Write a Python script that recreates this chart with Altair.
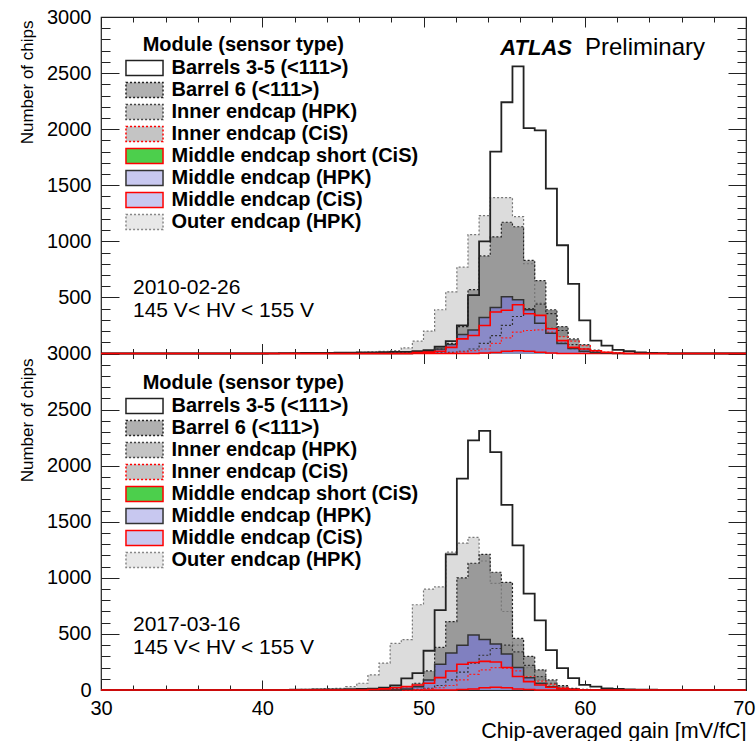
import altair as alt
import pandas as pd

# ---------------- data ----------------
X_LO, X_HI, N_BINS = 30.0, 70.0, 58
FIRST_BIN = 14  # the lists below start at bin 14 (39.66) and run to bin 50

SERIES = ["Barrels 3-5 (<111>)", "Barrel 6 (<111>)", "Inner endcap (HPK)",
          "Inner endcap (CiS)", "Middle endcap short (CiS)", "Middle endcap (HPK)",
          "Middle endcap (CiS)", "Outer endcap (HPK)"]

# panel 1 : 2010-02-26
t_barrels35 = [0, 2, 3, 3, 5, 5, 6, 8, 8, 10, 10, 12, 14, 15, 20, 30, 60, 110, 250, 520,
               1000, 1800, 2240, 2560, 2010, 1990, 1470, 965, 620, 295, 115, 70, 33, 21, 10, 5, 3]
t_barrel6 = [0, 0, 0, 0, 0, 0, 0, 0, 2, 3, 4, 5, 8, 10, 15, 20, 40, 90, 240, 570,
             870, 1040, 1170, 1130, 830, 650, 355, 205, 80, 40, 15, 6, 3, 0, 0, 0, 0]
t_inner_hpk = [0, 0, 0, 0, 0, 0, 0, 0, 0, 0, 0, 0, 0, 0, 0, 0, 5, 10, 20, 40,
               90, 160, 250, 330, 400, 440, 390, 240, 130, 80, 30, 10, 4, 0, 0, 0, 0]
t_inner_cis = [0, 0, 0, 0, 0, 0, 0, 0, 0, 0, 0, 0, 0, 0, 0, 0, 0, 5, 15, 25,
               40, 90, 140, 190, 205, 210, 190, 150, 110, 70, 25, 10, 4, 0, 0, 0, 0]
t_mid_short = [0, 0, 0, 0, 0, 0, 0, 0, 0, 0, 0, 0, 0, 0, 0, 0, 0, 0, 0, 0,
               5, 10, 20, 25, 20, 12, 5, 0, 0, 0, 0, 0, 0, 0, 0, 0, 0]
t_mid_hpk = [0, 0, 0, 0, 0, 0, 0, 0, 0, 0, 0, 0, 0, 0, 8, 15, 40, 80, 170, 210,
             320, 410, 505, 480, 390, 270, 180, 90, 45, 20, 8, 3, 0, 0, 0, 0, 0]
t_mid_cis = [0, 0, 0, 0, 0, 0, 0, 0, 0, 0, 0, 0, 0, 0, 8, 12, 20, 55, 130, 160,
             250, 370, 385, 435, 355, 340, 220, 115, 55, 40, 25, 10, 5, 0, 0, 0, 0]
t_outer = [0, 0, 0, 2, 3, 4, 5, 5, 8, 10, 15, 20, 25, 50, 110, 200, 390, 550, 770, 1060,
           1230, 1390, 1390, 1220, 800, 450, 230, 100, 40, 15, 5, 0, 0, 0, 0, 0, 0]

# panel 2 : 2017-03-16
b_barrels35 = [0, 2, 2, 3, 4, 5, 6, 6, 8, 10, 12, 20, 40, 104, 150, 350, 712, 1210, 1885, 2225,
               2310, 2120, 1650, 1290, 860, 620, 355, 195, 105, 45, 30, 15, 10, 6, 4, 3, 2]
b_barrel6 = [0, 0, 0, 0, 0, 0, 0, 0, 0, 0, 3, 5, 10, 30, 60, 170, 380, 610, 1000, 1130,
             1210, 1050, 960, 460, 300, 180, 90, 40, 15, 5, 0, 0, 0, 0, 0, 0, 0]
b_inner_hpk = [0, 0, 0, 0, 0, 0, 0, 0, 0, 0, 0, 0, 0, 0, 5, 15, 40, 90, 160, 240,
               310, 370, 400, 340, 220, 120, 60, 25, 10, 0, 0, 0, 0, 0, 0, 0, 0]
b_inner_cis = [0, 0, 0, 0, 0, 0, 0, 0, 0, 0, 0, 0, 0, 0, 0, 10, 20, 40, 90, 140,
               180, 200, 195, 170, 120, 80, 50, 20, 8, 0, 0, 0, 0, 0, 0, 0, 0]
b_mid_short = [0, 0, 0, 0, 0, 0, 0, 0, 0, 0, 0, 0, 0, 0, 0, 0, 0, 0, 5, 10,
               20, 25, 20, 10, 5, 0, 0, 0, 0, 0, 0, 0, 0, 0, 0, 0, 0]
b_mid_hpk = [0, 0, 0, 0, 0, 0, 0, 0, 0, 0, 0, 0, 0, 10, 30, 90, 230, 330, 400, 490,
             450, 410, 320, 200, 110, 60, 30, 12, 5, 0, 0, 0, 0, 0, 0, 0, 0]
b_mid_cis = [0, 0, 0, 0, 0, 0, 0, 0, 0, 0, 5, 10, 20, 30, 45, 60, 110, 170, 230, 245,
             255, 250, 200, 120, 75, 45, 25, 12, 5, 0, 0, 0, 0, 0, 0, 0, 0]
b_outer = [0, 0, 0, 3, 5, 8, 12, 15, 30, 60, 135, 240, 415, 450, 760, 900, 920, 1230, 1310, 1360,
           1150, 950, 700, 400, 200, 90, 40, 15, 5, 0, 0, 0, 0, 0, 0, 0, 0]

top_lists = [t_barrels35, t_barrel6, t_inner_hpk, t_inner_cis, t_mid_short, t_mid_hpk, t_mid_cis, t_outer]
bot_lists = [b_barrels35, b_barrel6, b_inner_hpk, b_inner_cis, b_mid_short, b_mid_hpk, b_mid_cis, b_outer]

Y_PANEL = 3000  # each panel spans 0..3000 chips; the upper panel is stacked above the lower one
X_MAJOR = [30, 40, 50, 60, 70]
X_MINOR = list(range(30, 71, 2))
Y_MAJOR = list(range(0, 2 * Y_PANEL + 1, 500))
Y_MINOR = list(range(0, 2 * Y_PANEL + 1, 100))
Y_LABELS = list(range(0, 2 * Y_PANEL + 1, 500))

LEGEND_TITLE = "Module (sensor type)"
Y_TITLE = "Number of chips"
X_TITLE = "Chip-averaged gain [mV/fC]"
ATLAS = "ATLAS"
PRELIM = "Preliminary"
TOP_DATE = "2010-02-26"
BOT_DATE = "2017-03-16"
HV_TEXT = "145 V< HV < 155 V"

# ---------------- style ----------------
FONT = "Liberation Sans"
W, H = 645, 673
HALF = H / 2.0

PLOT_FILL = {SERIES[0]: "#ffffff", SERIES[1]: "#9a9a9a", SERIES[2]: "#8a8a8a",
             SERIES[3]: "#a4a4a4", SERIES[4]: "#4fd04f", SERIES[5]: "#8080c0",
             SERIES[6]: "#8a8ac8", SERIES[7]: "#dcdcdc"}
LINE_COLOR = {SERIES[0]: "#222222", SERIES[1]: "#222222", SERIES[2]: "#333333",
              SERIES[3]: "#ff2020", SERIES[4]: "#ff0000", SERIES[5]: "#333333",
              SERIES[6]: "#ff0000", SERIES[7]: "#777777"}
LINE_DASH = {SERIES[0]: [1, 0], SERIES[1]: [2, 2], SERIES[2]: [2, 2], SERIES[3]: [2, 2],
             SERIES[4]: [1, 0], SERIES[5]: [1, 0], SERIES[6]: [1, 0], SERIES[7]: [2, 2]}
LINE_WIDTH = {SERIES[0]: 1.8, SERIES[1]: 1.2, SERIES[2]: 1.2, SERIES[3]: 1.2,
              SERIES[4]: 1.5, SERIES[5]: 1.5, SERIES[6]: 1.6, SERIES[7]: 1.2}
LEG_FILL = ["#ffffff", "#b0b0b0", "#c4c4c4", "#c4c4c4", "#4ccf4c", "#c8c8f0", "#c8c8f0", "#e8e8e8"]
LEG_STROKE = ["#222222", "#222222", "#444444", "#ff0000", "#ff0000", "#333333", "#ff0000", "#888888"]
LEG_DASH = [[1, 0], [2, 2], [2, 2], [2, 2], [1, 0], [1, 0], [1, 0], [2, 2]]

FILL_ORDER = [SERIES[0], SERIES[7], SERIES[1], SERIES[2], SERIES[3], SERIES[4], SERIES[5], SERIES[6]]
LINE_ORDER = [SERIES[7], SERIES[1], SERIES[2], SERIES[3], SERIES[4], SERIES[0], SERIES[5], SERIES[6]]

SYMBOL = "M-2.47,-1H2.47V1H-2.47Z"

XS = alt.Scale(domain=[X_LO, X_HI], nice=False, zero=False)
YS = alt.Scale(domain=[0, 2 * Y_PANEL], nice=False, zero=False)


def hist_frame(counts, base):
    width = (X_HI - X_LO) / N_BINS
    xs, cs = [], []
    for k in range(N_BINS):
        i = k - FIRST_BIN
        xs.append(X_LO + k * width)
        cs.append(counts[i] if 0 <= i < len(counts) else 0)
    xs.append(X_HI)
    cs.append(0)
    df = pd.DataFrame({"x": xs, "count": cs})
    df["yv"] = df["count"] + base
    df["base"] = base
    return df


def tick_axis(orient, values, size, offset):
    return alt.Axis(orient=orient, values=values, tickSize=size, offset=offset, labels=False,
                    domain=False, ticks=True, title=None, grid=False, tickColor="#222222",
                    tickWidth=1)


anchor = pd.DataFrame({"x": [50.0], "yv": [1000.0]})


def ax_layer(xaxis=None, yaxis=None):
    return alt.Chart(anchor).mark_point(opacity=0).encode(
        x=alt.X("x:Q", scale=XS, axis=xaxis), y=alt.Y("yv:Q", scale=YS, axis=yaxis))


def hist_layers(lists, base):
    by_name = dict(zip(SERIES, lists))
    out = []
    for name in FILL_ORDER:
        out.append(alt.Chart(hist_frame(by_name[name], base)).mark_area(
            interpolate="step-after", color=PLOT_FILL[name]).encode(
            x=alt.X("x:Q", scale=XS, axis=None), y=alt.Y("yv:Q", scale=YS, axis=None),
            y2="base:Q"))
    for name in LINE_ORDER:
        out.append(alt.Chart(hist_frame(by_name[name], base)).mark_line(
            interpolate="step-after", color=LINE_COLOR[name], strokeWidth=LINE_WIDTH[name],
            strokeDash=LINE_DASH[name]).encode(
            x=alt.X("x:Q", scale=XS, axis=None), y=alt.Y("yv:Q", scale=YS, axis=None)))
    return out


def legend_layer(ly, key):
    # leading zero-width space keeps the following no-break spaces (title indent)
    leg = alt.Legend(title="\u200b\u00a0\u00a0\u00a0" + LEGEND_TITLE, orient="none", legendX=25,
                     legendY=ly, titleFont=FONT, titleFontSize=20, titleFontWeight="bold",
                     titleColor="black", titleAnchor="start", titlePadding=3, titleLimit=600,
                     labelFont=FONT, labelFontSize=20, labelFontWeight="bold", labelColor="black",
                     labelLimit=600, symbolType=SYMBOL, symbolSize=225, symbolStrokeWidth=1.5,
                     symbolOpacity=1, symbolOffset=8.5, labelOffset=17, rowPadding=0, padding=0)
    leg_df = pd.DataFrame({key: SERIES})
    return alt.Chart(leg_df).mark_point(shape=SYMBOL, filled=True, opacity=1, strokeWidth=1.5,
                                        size=225).encode(
        fill=alt.Fill(key + ":N", scale=alt.Scale(domain=SERIES, range=LEG_FILL), legend=leg),
        stroke=alt.Stroke(key + ":N", scale=alt.Scale(domain=SERIES, range=LEG_STROKE), legend=leg),
        strokeDash=alt.StrokeDash(key + ":N", scale=alt.Scale(domain=SERIES, range=LEG_DASH), legend=leg),
    ).transform_filter("false")


def text_layer(s, x, y, **kw):
    style = dict(font=FONT, fontSize=21, color="black", baseline="alphabetic", align="left")
    style.update(kw)
    return alt.Chart(anchor).mark_text(text=s, **style).encode(x=alt.value(x), y=alt.value(y))


layers = []
layers += hist_layers(bot_lists, 0)
layers += hist_layers(top_lists, Y_PANEL)
layers.append(legend_layer(18, "top_module"))
layers.append(legend_layer(18 + 338, "bottom_module"))

label_expr = "datum.value > %d ? datum.value - %d : datum.value" % (Y_PANEL, Y_PANEL)
last_x = "datum.value == %d" % X_MAJOR[-1]
layers += [
    ax_layer(yaxis=tick_axis("right", Y_MAJOR, 18, -W)),
    ax_layer(yaxis=tick_axis("right", Y_MINOR, 9, -W)),
    ax_layer(yaxis=tick_axis("left", Y_MAJOR, 18, -W)),
    ax_layer(yaxis=tick_axis("left", Y_MINOR, 9, -W)),
    ax_layer(xaxis=tick_axis("top", X_MAJOR, 10, -H)),
    ax_layer(xaxis=tick_axis("top", X_MINOR, 5, -H)),
    ax_layer(xaxis=tick_axis("bottom", X_MAJOR, 10, -H)),
    ax_layer(xaxis=tick_axis("bottom", X_MINOR, 5, -H)),
    ax_layer(xaxis=tick_axis("top", X_MAJOR, 10, -HALF)),
    ax_layer(xaxis=tick_axis("top", X_MINOR, 5, -HALF)),
    ax_layer(xaxis=tick_axis("bottom", X_MAJOR, 10, -HALF)),
    ax_layer(xaxis=tick_axis("bottom", X_MINOR, 5, -HALF)),
    ax_layer(yaxis=alt.Axis(orient="left", values=Y_LABELS, labelExpr=label_expr, ticks=False,
                            tickSize=0, domain=False, grid=False, labelFont=FONT, labelFontSize=20,
                            labelColor="black", labelPadding=10, labelFlush=False,
                            title=Y_TITLE, titleFont=FONT, titleFontSize=17, titleFontWeight="normal",
                            titleColor="black", titleAngle=270, titleAlign="right",
                            titleBaseline="alphabetic", titleX=-69, titleY=3)),
    ax_layer(yaxis=alt.Axis(orient="left", values=[], labels=False, ticks=False, domain=False,
                            grid=False, title=Y_TITLE, titleFont=FONT, titleFontSize=17,
                            titleFontWeight="normal", titleColor="black", titleAngle=270,
                            titleAlign="right", titleBaseline="alphabetic", titleX=-69,
                            titleY=3 + 338)),
    ax_layer(xaxis=alt.Axis(orient="bottom", values=X_MAJOR, ticks=False, tickSize=0, domain=False,
                            grid=False, labelFont=FONT, labelFontSize=20, labelColor="black",
                            labelPadding=8, labelFlush=False,
                            labelAlign={"condition": {"test": last_x, "value": "right"}, "value": "center"},
                            labelOffset={"condition": {"test": last_x, "value": 9}, "value": 0},
                            title=X_TITLE, titleFont=FONT,
                            titleFontSize=21.5, titleFontWeight="normal", titleColor="black",
                            titleAlign="right", titleBaseline="alphabetic", titleX=W, titleY=47)),
]

layers += [
    text_layer(TOP_DATE, 32, 277),
    text_layer(HV_TEXT, 32, 300),
    text_layer(BOT_DATE, 32, 277 + 337),
    text_layer(HV_TEXT, 32, 300 + 337),
    text_layer(ATLAS, 471, 38, align="right", fontStyle="italic", fontWeight="bold", fontSize=22),
    text_layer(PRELIM, 484, 38, fontSize=24),
]

chart = alt.layer(*layers).properties(
    width=W, height=H,
    autosize=alt.AutoSizeParams(type="none"),
    padding={"left": 101, "top": 17, "right": 10, "bottom": 51},
    background="white",
).resolve_axis(x="independent", y="independent").resolve_scale(
    fill="independent", stroke="independent", strokeDash="independent"
).configure_view(stroke="#222222", strokeWidth=1.2).configure_axis(grid=False)

chart.save("out.html", embed_options={"renderer": "svg", "actions": False})
